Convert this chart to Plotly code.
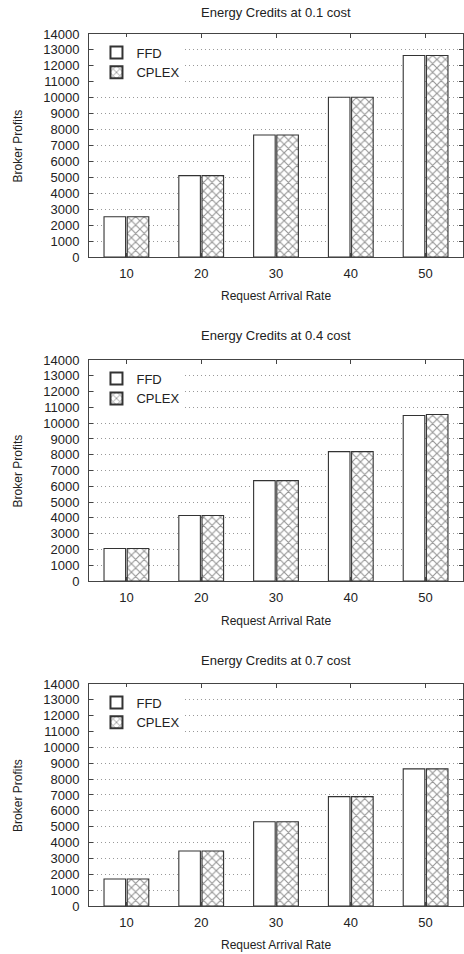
import plotly.graph_objects as go

categories = ["10", "20", "30", "40", "50"]
titles = ["Energy Credits at 0.1 cost", "Energy Credits at 0.4 cost", "Energy Credits at 0.7 cost"]
ffd_01 = [2530, 5110, 7660, 10030, 12650]
cplex_01 = [2530, 5110, 7660, 10030, 12650]
ffd_04 = [2060, 4150, 6360, 8200, 10490]
cplex_04 = [2060, 4150, 6360, 8200, 10550]
ffd_07 = [1700, 3470, 5310, 6900, 8650]
cplex_07 = [1700, 3470, 5310, 6900, 8650]
y_ticks = list(range(0, 14001, 1000))

FONT = "Liberation Sans, Arial, sans-serif"
INK = "#222222"
EDGE = "#333333"

fig = go.Figure()
panels = [(ffd_01, cplex_01), (ffd_04, cplex_04), (ffd_07, cplex_07)]
domains = [[0.7443, 1.0], [0.3727, 0.6261], [0.0, 0.2546]]
legend_keys = ["legend", "legend2", "legend3"]
xtitle_y = [0.6995, 0.3268, -0.0447]
ytitle_y = [0.8721, 0.4994, 0.1273]
title_y = [1.025, 0.6548, 0.2821]

for i, (ffd, cplex) in enumerate(panels):
    xa = "x" if i == 0 else f"x{i+1}"
    ya = "y" if i == 0 else f"y{i+1}"
    fig.add_trace(go.Bar(
        x=categories, y=ffd, name="FFD", xaxis=xa, yaxis=ya,
        legend=legend_keys[i],
        marker=dict(color="white", line=dict(color=EDGE, width=1.1)),
    ))
    fig.add_trace(go.Bar(
        x=categories, y=cplex, name="CPLEX", xaxis=xa, yaxis=ya,
        legend=legend_keys[i],
        marker=dict(color="white", line=dict(color=EDGE, width=1.1),
                    pattern=dict(shape="x", fgcolor="#2a2a2a", bgcolor="white",
                                 size=6, solidity=0.33)),
    ))

axis_common = dict(
    showline=True, mirror="ticks", linecolor="#444444", linewidth=1,
    ticks="inside", ticklen=4, tickcolor="#444444", automargin=False,
    tickfont=dict(family=FONT, size=13, color=INK),
)

layout = dict(
    width=464, height=954,
    margin=dict(l=89, r=1, t=34, b=48),
    paper_bgcolor="white", plot_bgcolor="white",
    barmode="group", bargap=0.38, bargroupgap=0.07,
    font=dict(family=FONT, size=13, color=INK),
    annotations=[],
)

for i in range(3):
    xk = "xaxis" if i == 0 else f"xaxis{i+1}"
    yk = "yaxis" if i == 0 else f"yaxis{i+1}"
    ya = "y" if i == 0 else f"y{i+1}"
    xa = "x" if i == 0 else f"x{i+1}"
    layout[xk] = dict(
        axis_common, anchor=ya, domain=[0, 1], type="category",
        range=[-0.5, 4.5], showgrid=False, ticklabelstandoff=4,
    )
    layout[yk] = dict(
        axis_common, anchor=xa, domain=domains[i],
        range=[0, 14000], tickvals=y_ticks, ticktext=[str(v) for v in y_ticks],
        showgrid=True, gridcolor="#999999", griddash="1px,3px", gridwidth=1,
        zeroline=False, ticklabelstandoff=6,
    )
    top = domains[i][1]
    layout[legend_keys[i]] = dict(
        x=0.02, y=top - 0.004, xanchor="left", yanchor="top",
        bgcolor="white", font=dict(family=FONT, size=13, color=INK),
        tracegroupgap=2, itemsizing="constant",
    )
    layout["annotations"].append(dict(
        text=titles[i], xref="paper", yref="paper",
        x=0.5, y=title_y[i], xanchor="center", yanchor="middle",
        showarrow=False, font=dict(family=FONT, size=13, color=INK),
    ))
    layout["annotations"].append(dict(
        text="Request Arrival Rate", xref="paper", yref="paper",
        x=0.5, y=xtitle_y[i], xanchor="center", yanchor="middle",
        showarrow=False, font=dict(family=FONT, size=12, color=INK),
    ))
    layout["annotations"].append(dict(
        text="Broker Profits", xref="paper", yref="paper", textangle=-90,
        x=-0.19, y=ytitle_y[i], xanchor="center", yanchor="middle",
        showarrow=False, font=dict(family=FONT, size=12, color=INK),
    ))

fig.update_layout(**layout)
fig.write_html("out.html", config={"displayModeBar": False},
               post_script="document.body.style.margin='0px';")
